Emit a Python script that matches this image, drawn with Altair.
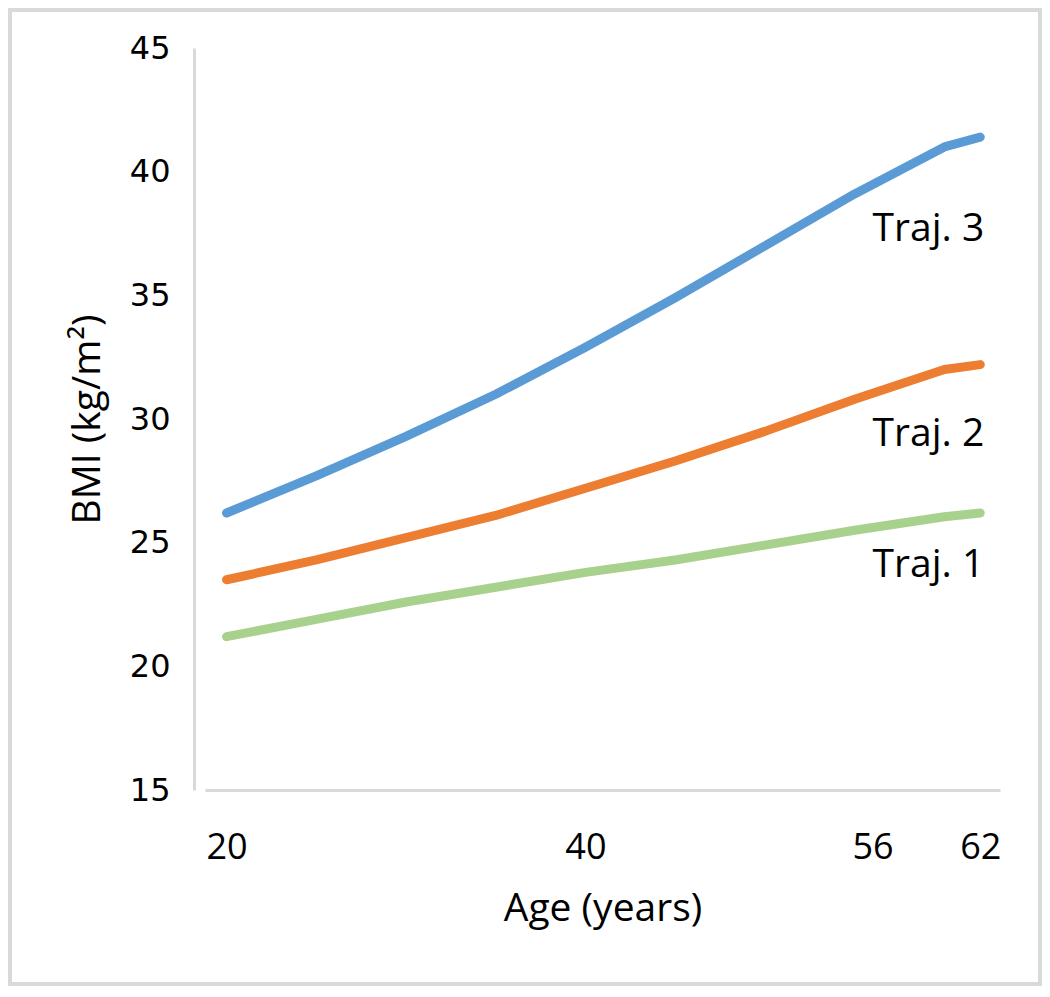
import altair as alt
import pandas as pd

# ---- data ----
ages = [20, 25, 30, 35, 40, 45, 50, 55, 60, 62]
traj1 = [21.2, 21.9, 22.6, 23.2, 23.8, 24.3, 24.9, 25.5, 26.05, 26.2]
traj2 = [23.5, 24.3, 25.2, 26.1, 27.2, 28.3, 29.5, 30.8, 32.0, 32.2]
traj3 = [26.2, 27.7, 29.3, 31.0, 32.9, 34.9, 37.0, 39.1, 41.0, 41.4]
series_names = ["Traj. 1", "Traj. 2", "Traj. 3"]
series_colors = ["#A9D18E", "#ED7D31", "#5B9BD5"]
x_ticks = [20, 40, 56, 62]
y_ticks = [15, 20, 25, 30, 35, 40, 45]
label_age = [56, 56, 56]
label_bmi = [24.1, 29.4, 37.7]

rows = []
for name, vals in zip(series_names, [traj1, traj2, traj3]):
    for a, v in zip(ages, vals):
        rows.append({"series": name, "age": a, "bmi": v})
df = pd.DataFrame(rows)
labels_df = pd.DataFrame({"series": series_names, "age": label_age, "bmi": label_bmi})

W, H = 795, 742
PAD = {"left": 197, "top": 40, "right": 42, "bottom": 196}

x_scale = alt.Scale(domain=[18.8, 63.1], nice=False, zero=False)
y_scale = alt.Scale(domain=[15, 45], nice=False, zero=False)
color_scale = alt.Scale(domain=series_names, range=series_colors)

lines = alt.Chart(df).mark_line(strokeWidth=9, strokeCap="round", strokeJoin="round").encode(
    x=alt.X("age:Q", scale=x_scale,
            axis=alt.Axis(values=x_ticks, format="d", title="Age (years)", grid=False,
                          ticks=False, tickSize=0, labelPadding=40, labelFontSize=36,
                          labelFont="Open Sans", labelColor="#000000",
                          domainColor="#D9D9D9", domainWidth=3,
                          titleFont="Open Sans", titleFontSize=39, titleFontWeight="normal",
                          titleColor="#000000", titlePadding=24)),
    y=alt.Y("bmi:Q", scale=y_scale,
            axis=alt.Axis(values=y_ticks, title="BMI (kg/m²)", grid=False,
                          ticks=False, tickSize=0, offset=11, labelPadding=24,
                          labelFontSize=32, labelFont="DejaVu Sans", labelColor="#000000",
                          domainColor="#D9D9D9", domainWidth=3,
                          titleFont="Open Sans", titleFontSize=39, titleFontWeight="normal",
                          titleColor="#000000", titlePadding=22)),
    color=alt.Color("series:N", scale=color_scale, legend=None),
    detail="series:N",
)

texts = alt.Chart(labels_df).mark_text(align="left", baseline="middle", font="Open Sans",
                                       fontSize=39, color="#000000").encode(
    x=alt.X("age:Q", scale=x_scale),
    y=alt.Y("bmi:Q", scale=y_scale),
    text="series:N",
)

frame = alt.Chart(pd.DataFrame({"a": [0]})).mark_rect(
    fillOpacity=0, stroke="#D9D9D9", strokeWidth=4
).encode(
    x=alt.value(-195), x2=alt.value(835), y=alt.value(-38), y2=alt.value(936)
)

chart = alt.layer(frame, lines, texts).properties(
    width=W, height=H,
    padding=PAD,
    autosize=alt.AutoSizeParams(type="none"),
    background="white",
).configure_view(stroke=None)

chart.save("out.html", embed_options={"renderer": "svg", "actions": False})
